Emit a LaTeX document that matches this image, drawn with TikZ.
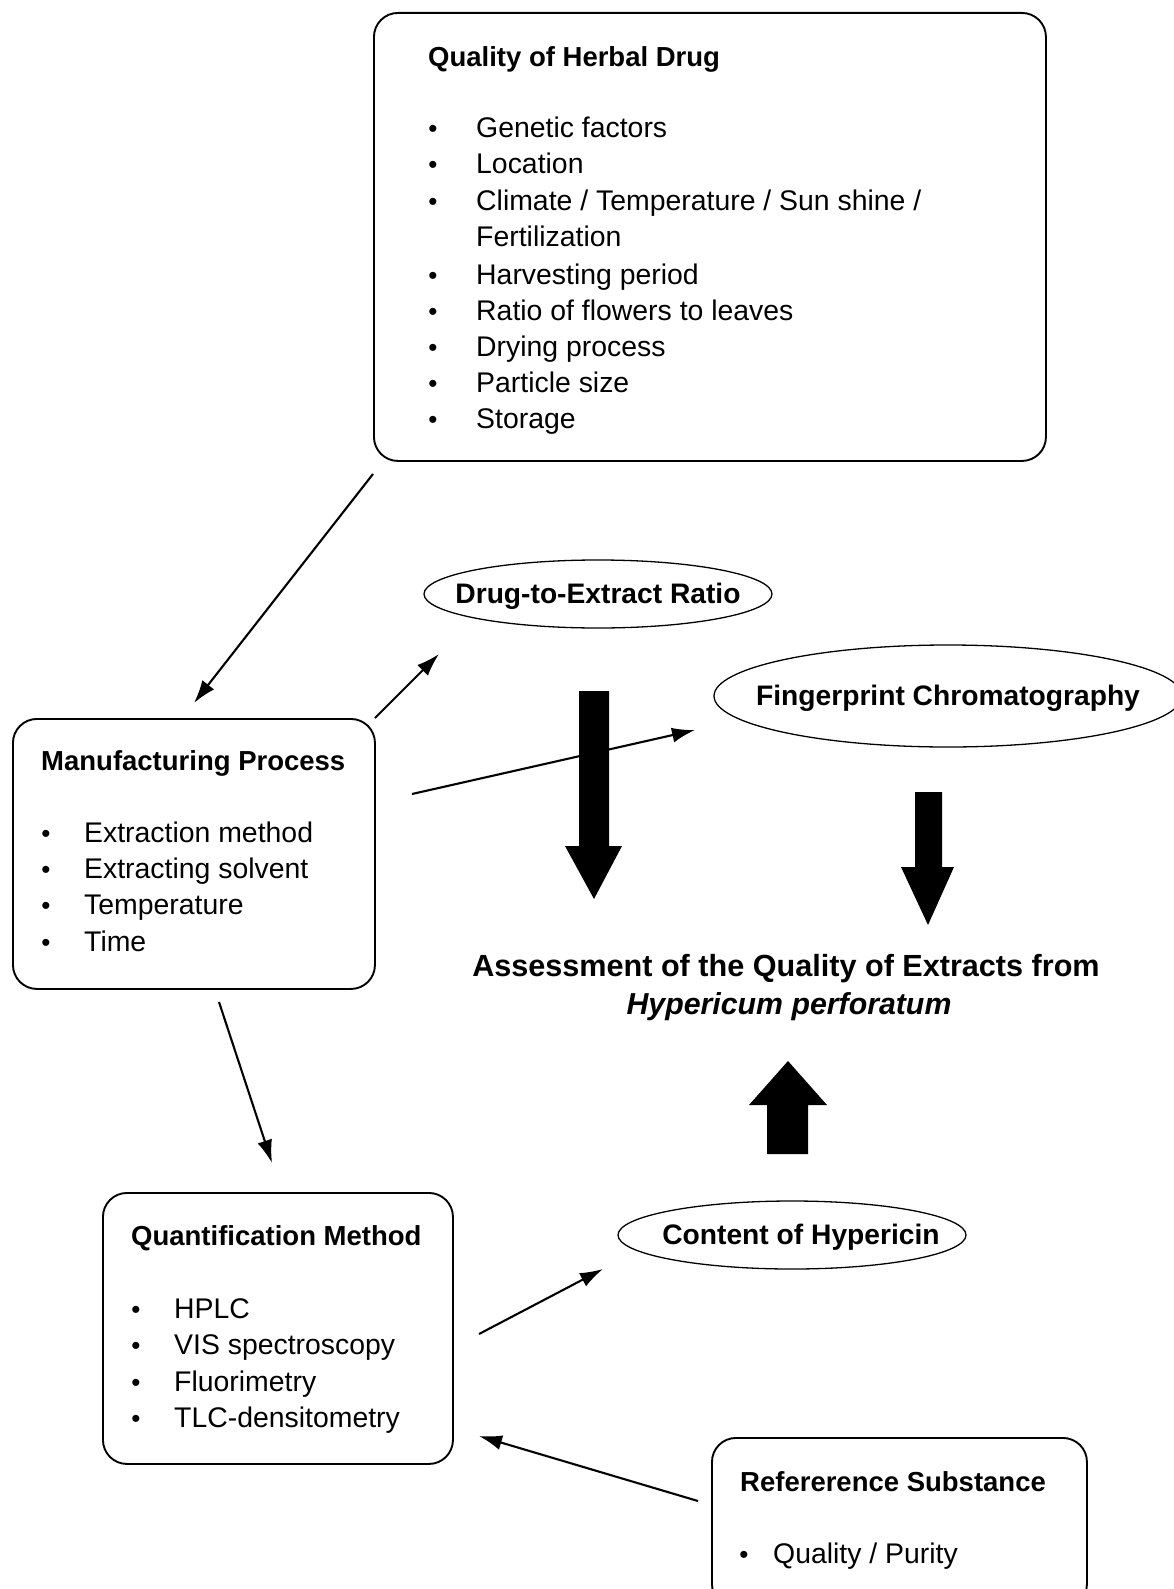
\documentclass[tikz,border=0pt]{standalone}
\usepackage{fontspec}
\setmainfont{Liberation Sans}
\usetikzlibrary{arrows.meta,shapes.geometric}
\begin{document}
\begin{tikzpicture}[x=1pt,y=-1pt,
  box/.style={draw, line width=1.9pt, rounded corners=24pt, anchor=north west, inner sep=0pt},
  oval/.style={draw, ellipse, line width=1.3pt, inner sep=0pt},
  ovaltxt/.style={anchor=center, inner sep=0pt, font=\fontsize{28.2}{32}\selectfont\bfseries},
  txt/.style={anchor=base west, inner sep=0pt, font=\fontsize{28.4}{34}\selectfont},
  head/.style={anchor=base west, inner sep=0pt, font=\fontsize{27.5}{34}\selectfont\bfseries},
  bul/.style={anchor=base, inner sep=0pt, font=\fontsize{26}{34}\selectfont},
  conn/.style={line width=2.1pt, -{Latex[length=23pt,width=15pt]}},
  block/.style={fill=black}
]
\useasboundingbox (0,0) rectangle (1174,1589);
\fill[white] (0,0) rectangle (1174,1589);
\clip (0,0) rectangle (1174,1589);

% ---------- Quality of Herbal Drug ----------
\node[box, minimum width=672pt, minimum height=448pt] (herb) at (373,12) {};
\node[head] (herbh) at (428,67) {Quality of Herbal Drug};
\node[bul] (hb1) at (433,138) {•}; \node[txt] (ht1) at (476,138) {Genetic factors};
\node[bul] (hb2) at (433,174) {•}; \node[txt] (ht2) at (476,174) {Location};
\node[bul] (hb3) at (433,211) {•}; \node[txt] (ht3) at (476,211) {Climate / Temperature / Sun shine /};
\node[txt] (ht4) at (476,247) {Fertilization};
\node[bul] (hb5) at (433,284) {•}; \node[txt] (ht5) at (476,284) {Harvesting period};
\node[bul] (hb6) at (433,320) {•}; \node[txt] (ht6) at (476,320) {Ratio of flowers to leaves};
\node[bul] (hb7) at (433,356) {•}; \node[txt] (ht7) at (476,356) {Drying process};
\node[bul] (hb8) at (433,392) {•}; \node[txt] (ht8) at (476,392) {Particle size};
\node[bul] (hb9) at (433,428) {•}; \node[txt] (ht9) at (476,428) {Storage};

% ---------- Manufacturing Process ----------
\node[box, minimum width=362pt, minimum height=270pt] (manu) at (12,718) {};
\node[head] (manuh) at (41,770) {Manufacturing Process};
\node[bul] (mb1) at (46,842) {•}; \node[txt] (mt1) at (84,842) {Extraction method};
\node[bul] (mb2) at (46,878) {•}; \node[txt] (mt2) at (84,878) {Extracting solvent};
\node[bul] (mb3) at (46,914) {•}; \node[txt] (mt3) at (84,914) {Temperature};
\node[bul] (mb4) at (46,951) {•}; \node[txt] (mt4) at (84,951) {Time};

% ---------- Quantification Method ----------
\node[box, minimum width=350pt, minimum height=271pt] (quant) at (102,1192) {};
\node[head] (quanth) at (131,1245) {Quantification Method};
\node[bul] (qb1) at (136,1318) {•}; \node[txt] (qt1) at (174,1318) {HPLC};
\node[bul] (qb2) at (136,1354) {•}; \node[txt] (qt2) at (174,1354) {VIS spectroscopy};
\node[bul] (qb3) at (136,1391) {•}; \node[txt] (qt3) at (174,1391) {Fluorimetry};
\node[bul] (qb4) at (136,1427) {•}; \node[txt] (qt4) at (174,1427) {TLC-densitometry};

% ---------- Reference Substance ----------
\node[box, minimum width=375pt, minimum height=170pt] (refs) at (711,1437) {};
\node[head] (refsh) at (740,1491) {Refererence Substance};
\node[bul] (rb1) at (744,1563) {•};
\node[txt] (rt1) at (773,1563) {Quality / Purity};

% ---------- Ellipses ----------
\node[oval, minimum width=348pt, minimum height=68pt] (der) at (598,594) {};
\node[ovaltxt] (dert) at (598,596) {Drug-to-Extract Ratio};
\node[oval, minimum width=468pt, minimum height=102pt] (fpc) at (948,696) {};
\node[ovaltxt] (fpct) at (948,698) {Fingerprint Chromatography};
\node[oval, minimum width=348pt, minimum height=68pt] (hyp) at (792,1235) {};
\node[ovaltxt] (hypt) at (801,1237) {Content of Hypericin};

% ---------- Central text ----------
\node[anchor=base, inner sep=0pt, font=\fontsize{30.6}{34}\selectfont\bfseries] (assess) at (786,976) {Assessment of the Quality of Extracts from};
\node[anchor=base, inner sep=0pt, font=\fontsize{30.3}{34}\selectfont\bfseries\itshape] (hyper) at (789,1014) {Hypericum perforatum};

% ---------- Block arrows ----------
\fill[block] (579,691) -- (609,691) -- (609,846) -- (622,846) -- (594,899) -- (565,846) -- (579,846) -- cycle;
\fill[block] (915,792) -- (942,792) -- (942,867) -- (954,867) -- (928,925) -- (901,867) -- (915,867) -- cycle;
\fill[block] (767,1154) -- (808,1154) -- (808,1105) -- (827,1105) -- (788,1061) -- (749,1105) -- (767,1105) -- cycle;

% ---------- Thin arrows ----------
\coordinate (a1) at (373,474);  \coordinate (a2) at (194,703);
\coordinate (b1) at (375,718);  \coordinate (b2) at (439,654);
\coordinate (c1) at (412,794);  \coordinate (c2) at (695,730);
\coordinate (d1) at (219,1002); \coordinate (d2) at (272,1163);
\coordinate (e1) at (479,1334); \coordinate (e2) at (603,1269);
\coordinate (f1) at (698,1501); \coordinate (f2) at (479,1436);
\draw[conn] (a1) -- (a2);
\draw[conn] (b1) -- (b2);
\draw[conn] (c1) -- (c2);
\draw[conn] (d1) -- (d2);
\draw[conn] (e1) -- (e2);
\draw[conn] (f1) -- (f2);
\end{tikzpicture}
\end{document}
